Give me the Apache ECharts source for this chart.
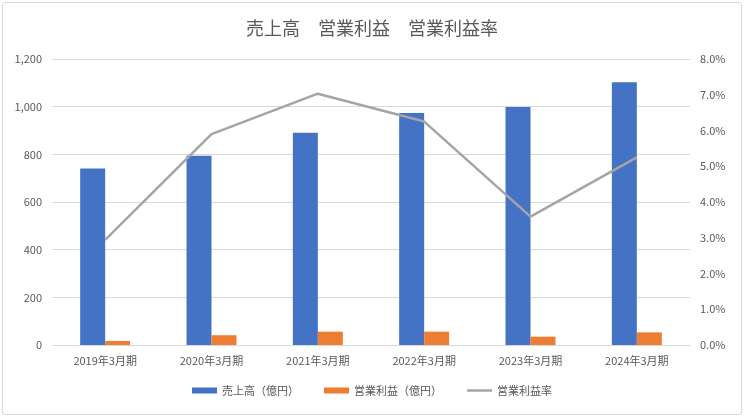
<!DOCTYPE html>
<html><head><meta charset="utf-8">
<script src="https://cdn.jsdelivr.net/npm/echarts@6/dist/echarts.min.js"></script>
<style>
html,body{margin:0;padding:0;background:#fff;}
#frame{position:absolute;left:2px;top:2px;width:738px;height:411px;border:1px solid #d9d9d9;border-radius:3px;}
#c{position:absolute;left:0;top:0;width:744px;height:417px;}
</style></head>
<body><div id="frame"></div><div id="c"></div>
<script>
const categories = ['2019年3月期','2020年3月期','2021年3月期','2022年3月期','2023年3月期','2024年3月期'];
const sales = [741, 794, 891, 973, 999, 1102];
const opProfit = [17, 41, 56, 56, 35, 53];
const opMargin = [2.94, 5.90, 7.03, 6.25, 3.59, 5.25];
const leftTicks = [0, 200, 400, 600, 800, 1000, 1200];
const rightTicks = [0, 1, 2, 3, 4, 5, 6, 7, 8];

const font = '"Noto Sans CJK JP", "Noto Sans", sans-serif';
const txt = '#595959';
const chart = echarts.init(document.getElementById('c'), null, {renderer:'canvas'});
chart.setOption({
  animation:false,
  title:{text:'売上高　営業利益　営業利益率', left:'center', top:14,
    textStyle:{fontFamily:font, fontSize:18, fontWeight:'normal', color:txt}},
  legend:{bottom:16, left:'center', itemWidth:25, itemHeight:6, itemGap:25,
    textStyle:{fontFamily:font, fontSize:11, color:txt},
    data:[{name:'売上高（億円）', icon:'rect'},{name:'営業利益（億円）', icon:'rect'},
          {name:'営業利益率', icon:'path://M0,0 L100,0 L100,10 L0,10 Z', itemStyle:{color:'#A5A5A5'}}]},
  grid:{left:52, right:54, top:59, bottom:72},
  xAxis:{type:'category', data:categories,
    axisLine:{show:true, lineStyle:{color:'#d9d9d9'}}, axisTick:{show:false},
    axisLabel:{fontFamily:font, fontSize:11, color:txt, margin:10}},
  yAxis:[
    {type:'value', min:leftTicks[0], max:leftTicks[leftTicks.length-1], interval:200,
     axisLine:{show:false}, axisTick:{show:false},
     splitLine:{lineStyle:{color:'#d9d9d9'}},
     axisLabel:{fontFamily:font, fontSize:11, color:txt, margin:10,
       formatter:v=>v.toLocaleString('en-US')}},
    {type:'value', min:rightTicks[0], max:rightTicks[rightTicks.length-1], interval:1,
     axisLine:{show:false}, axisTick:{show:false}, splitLine:{show:false},
     axisLabel:{fontFamily:font, fontSize:11, color:txt, margin:10,
       formatter:v=>v.toFixed(1)+'%'}}
  ],
  series:[
    {name:'売上高（億円）', type:'bar', data:sales, barGap:'0%', barCategoryGap:'53%',
     itemStyle:{color:'#4472C4'}},
    {name:'営業利益（億円）', type:'bar', data:opProfit,
     itemStyle:{color:'#ED7D31'}},
    {name:'営業利益率', type:'line', yAxisIndex:1, data:opMargin, symbol:'none',
     lineStyle:{color:'#A5A5A5', width:2.5}, itemStyle:{color:'#A5A5A5'}}
  ]
});
</script></body></html>
